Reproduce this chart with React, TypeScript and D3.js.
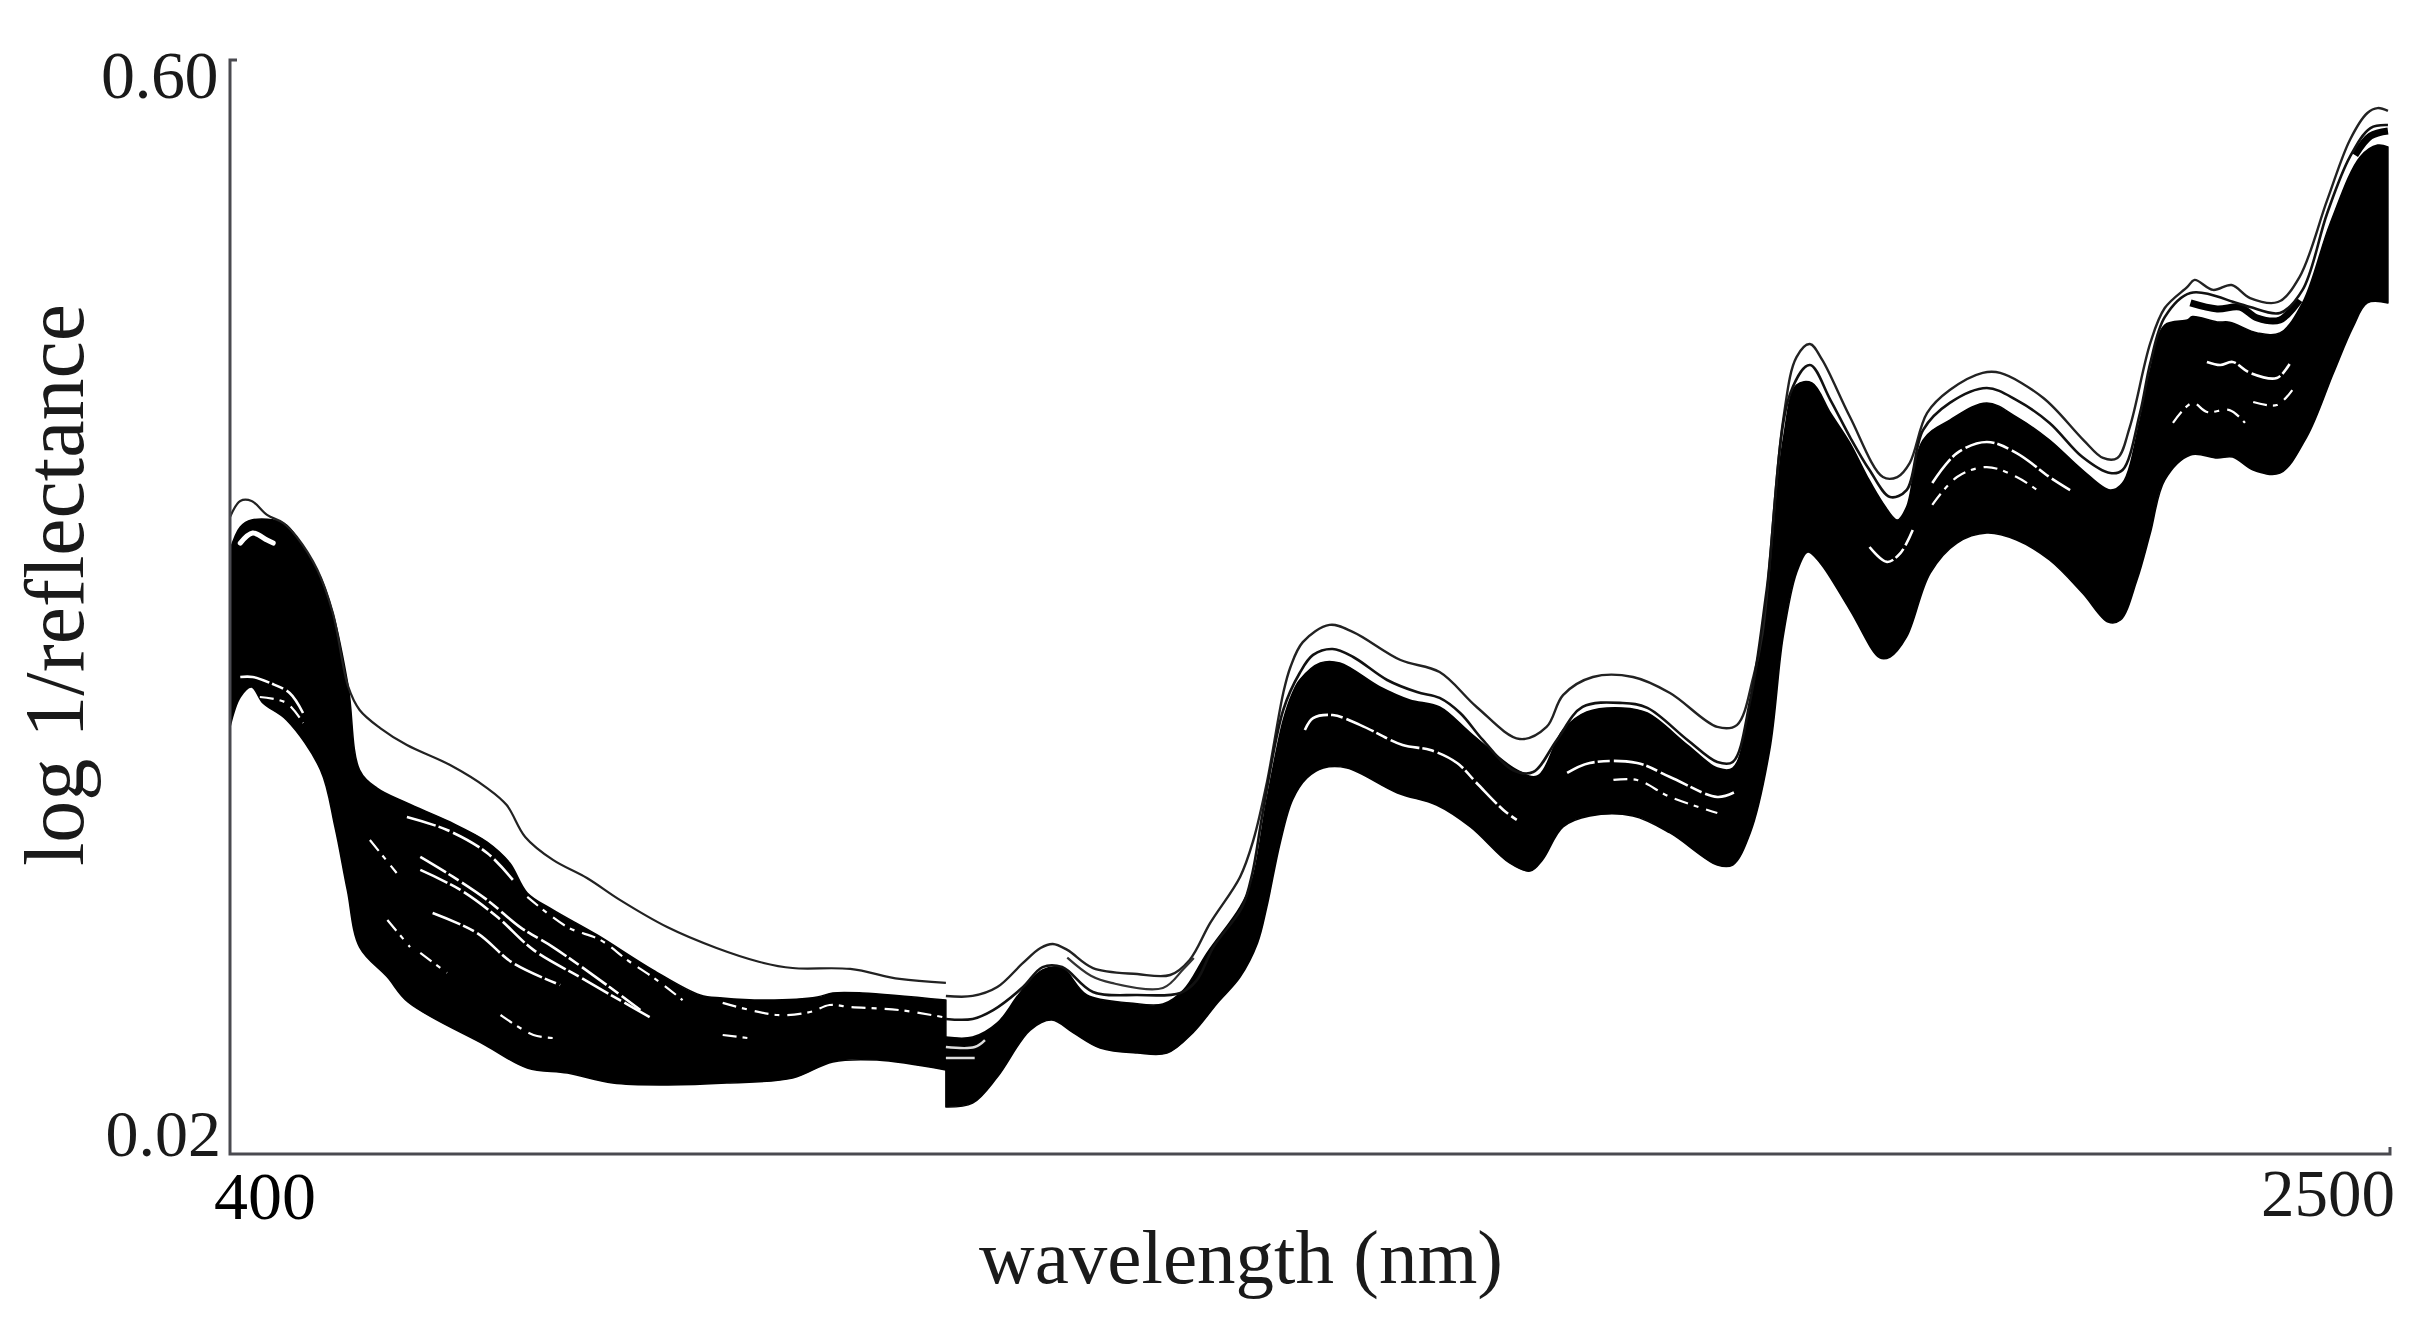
import React from "react";
import * as d3 from "d3";

type P = [number, number];

// wavelength (nm), log 1/R. Visible / first detector segment ends at 1096 nm.
const outlierVis: P[] = [[400,.3577],[410,.3662],[421,.3662],[436,.3588],[452,.3545],[465,.3471],[485,.3296],[500,.3068],[515,.2676],[526,.2554],[546,.2458],[572,.2368],[614,.2262],[650,.2140],[669,.2050],[687,.1881],[714,.1759],[747,.1663],[779,.1547],[825,.1403],[873,.1292],[915,.1218],[947,.1186],[1003,.1181],[1051,.1128],[1096,.1107]];
const bandTopVis: P[] = [[400,.3402],[410,.3524],[421,.3561],[452,.3545],[468,.3445],[488,.3259],[500,.3068],[515,.2676],[526,.2236],[543,.2140],[572,.2061],[614,.1960],[650,.1854],[672,.1743],[689,.1584],[714,.1494],[757,.1361],[811,.1176],[857,.1043],[879,.1027],[922,.1016],[971,.1032],[986,.1054],[1015,.1054],[1096,.1016]];
const bandBottomVis: P[] = [[400,.2464],[410,.2623],[421,.2676],[432,.2591],[455,.2501],[488,.2236],[502,.1934],[514,.1600],[526,.1297],[553,.1138],[573,.1006],[648,.0778],[689,.0656],[728,.0629],[772,.0576],[825,.0566],[883,.0576],[947,.0603],[986,.0688],[1029,.0698],[1096,.0645]];

const gapVisA: P[] = [[585,.1775],[617,.1669],[650,.1547],[682,.1403],[714,.1297],[769,.1085],[799,.0963]];
const gapVisB: P[] = [[597,.1478],[640,.1372],[675,.1213],[721,.1096]];
const gapVisC: P[] = [[663,.0937],[695,.0831],[714,.0815]];
const gapVisD: P[] = [[879,.0831],[903,.0815]];
const gapVisE: P[] = [[879,.1001],[932,.0937],[964,.0953],[983,.0990],[1003,.0979],[1051,.0963],[1093,.0926]];
const gapVisF: P[] = [[585,.1706],[624,.1600],[660,.1456],[695,.1282],[740,.1138],[779,.1016],[808,.0926]];
const gapVisG: P[] = [[689,.1563],[728,.1403],[760,.1335],[786,.1229],[815,.1122],[840,.1016]];
const gapVisH: P[] = [[553,.1441],[575,.1297]];
const gapVisI: P[] = [[585,.1266],[611,.1160]];
const gapVisJ: P[] = [[572,.1987],[611,.1918],[650,.1796],[675,.1653]];
const gapVisK: P[] = [[536,.1865],[562,.1690]];
const gapPeakA: P[] = [[410,.3439],[422,.3492],[436,.3455],[442,.3439]];
const gapPeakB: P[] = [[410,.2729],[422,.2729],[439,.2697],[458,.2644],[471,.2538]];
const gapPeakC: P[] = [[429,.2623],[455,.2591],[471,.2485]];

const outlierNir: P[] = [[1096,.1038],[1122,.1038],[1146,.1085],[1171,.1213],[1188,.1292],[1200,.1313],[1214,.1282],[1239,.1186],[1282,.1154],[1314,.1149],[1333,.1229],[1353,.1425],[1382,.1669],[1395,.1865],[1408,.2167],[1424,.2644],[1431,.2782],[1443,.2914],[1469,.3005],[1492,.2967],[1538,.2819],[1576,.2755],[1612,.2570],[1654,.2400],[1680,.2464],[1696,.2633],[1725,.2729],[1764,.2729],[1800,.2644],[1846,.2464],[1865,.2474],[1881,.2729],[1890,.2962],[1910,.4091],[1923,.4425],[1936,.4494],[1948,.4410],[1975,.4107],[2007,.3789],[2021,.3789],[2033,.3863],[2050,.4129],[2072,.4250],[2104,.4341],[2121,.4341],[2163,.4208],[2202,.3985],[2221,.3890],[2235,.3890],[2247,.4054],[2267,.4500],[2281,.4685],[2303,.4797],[2310,.4834],[2328,.4781],[2346,.4807],[2364,.4738],[2391,.4717],[2412,.4849],[2439,.5258],[2461,.5576],[2478,.5719],[2488,.5745],[2498,.5730]];
const secondNir: P[] = [[1096,.0916],[1122,.0916],[1142,.0963],[1171,.1085],[1190,.1191],[1209,.1191],[1239,.1059],[1282,.1043],[1324,.1054],[1340,.1122],[1356,.1297],[1384,.1509],[1394,.1690],[1404,.2008],[1424,.2554],[1440,.2750],[1453,.2846],[1472,.2877],[1492,.2835],[1525,.2713],[1554,.2649],[1576,.2618],[1596,.2538],[1618,.2395],[1647,.2236],[1667,.2225],[1690,.2395],[1715,.2570],[1754,.2591],[1778,.2565],[1817,.2395],[1846,.2278],[1861,.2278],[1878,.2607],[1894,.3190],[1917,.4234],[1936,.4383],[1956,.4197],[1975,.4001],[1994,.3826],[2014,.3683],[2030,.3720],[2046,.4038],[2072,.4182],[2108,.4261],[2137,.4197],[2169,.4076],[2201,.3895],[2228,.3810],[2240,.3826],[2257,.4129],[2267,.4394],[2281,.4637],[2306,.4765],[2351,.4712],[2364,.4690],[2393,.4659],[2415,.4781],[2439,.5189],[2461,.5486],[2481,.5639],[2498,.5655]];
const thirdNir: P[] = [[1214,.1241],[1237,.1145],[1257,.1107],[1307,.1080],[1327,.1181],[1337,.1239]];
const stripNir: P[] = [[2306,.4712],[2332,.4680],[2354,.4690],[2371,.4632],[2393,.4622],[2412,.4728]];
const stripEnd: P[] = [[2466,.5496],[2481,.5597],[2498,.5624]];
const bandTopNir: P[] = [[1096,.0820],[1122,.0820],[1146,.0895],[1168,.1054],[1190,.1176],[1209,.1186],[1233,.1043],[1275,.1001],[1307,.0995],[1327,.1069],[1350,.1266],[1382,.1509],[1394,.1653],[1408,.2077],[1424,.2501],[1433,.2644],[1440,.2713],[1460,.2803],[1479,.2803],[1518,.2676],[1547,.2607],[1576,.2570],[1606,.2432],[1651,.2236],[1671,.2204],[1696,.2448],[1719,.2543],[1754,.2565],[1778,.2538],[1817,.2368],[1846,.2246],[1861,.2246],[1878,.2580],[1894,.3137],[1910,.3985],[1923,.4277],[1938,.4288],[1956,.4129],[1975,.3969],[1992,.3789],[2007,.3651],[2021,.3561],[2030,.3630],[2046,.3985],[2072,.4091],[2108,.4182],[2137,.4107],[2169,.3985],[2201,.3826],[2228,.3720],[2240,.3757],[2257,.4091],[2267,.4356],[2281,.4595],[2303,.4622],[2308,.4640],[2332,.4611],[2344,.4610],[2371,.4553],[2393,.4553],[2415,.4712],[2442,.5136],[2471,.5486],[2488,.5549],[2498,.5539]];
const bandBottomNir: P[] = [[1096,.0449],[1122,.0470],[1146,.0608],[1178,.0857],[1199,.0910],[1220,.0842],[1246,.0762],[1282,.0735],[1311,.0735],[1336,.0842],[1360,.1001],[1382,.1138],[1399,.1319],[1408,.1509],[1421,.1849],[1433,.2077],[1447,.2193],[1463,.2246],[1486,.2246],[1535,.2114],[1573,.2050],[1606,.1934],[1644,.1743],[1664,.1700],[1676,.1759],[1696,.1934],[1722,.1992],[1764,.1992],[1800,.1902],[1846,.1732],[1861,.1732],[1878,.1902],[1897,.2342],[1910,.2941],[1923,.3280],[1934,.3392],[1946,.3333],[1975,.3084],[2004,.2830],[2014,.2835],[2030,.2941],[2053,.3280],[2079,.3439],[2108,.3492],[2137,.3455],[2169,.3349],[2201,.3174],[2226,.3020],[2238,.3031],[2254,.3243],[2267,.3492],[2281,.3773],[2306,.3906],[2332,.3890],[2347,.3895],[2367,.3826],[2393,.3810],[2419,.4001],[2445,.4341],[2464,.4584],[2478,.4712],[2498,.4712]];

const gapNirA: P[] = [[1096,.0767],[1124,.0767],[1134,.0804]];
const gapNirB: P[] = [[1096,.0709],[1124,.0709]];
const gapNirC: P[] = [[1445,.2448],[1453,.2511],[1472,.2527],[1499,.2474],[1540,.2368],[1567,.2342],[1593,.2273],[1612,.2167],[1638,.2024],[1651,.1971]];
const gapNirD: P[] = [[1700,.2220],[1722,.2273],[1768,.2273],[1800,.2199],[1846,.2093],[1863,.2119]];
const gapNirE: P[] = [[1745,.2183],[1768,.2183],[1800,.2093],[1846,.2008]];
const gapNirF: P[] = [[2055,.3757],[2079,.3916],[2108,.3975],[2137,.3916],[2169,.3789],[2189,.3720]];
const gapNirG: P[] = [[2055,.3641],[2079,.3789],[2108,.3842],[2137,.3789],[2157,.3720]];
const gapNirH: P[] = [[1994,.3418],[2011,.3339],[2024,.3386],[2036,.3508]];
const gapNirI: P[] = [[2322,.4399],[2335,.4383],[2347,.4399],[2364,.4341],[2390,.4314],[2403,.4394]];
const gapNirJ: P[] = [[2367,.4187],[2390,.4171],[2405,.4250]];
const gapNirK: P[] = [[2289,.4076],[2308,.4182],[2322,.4134],[2344,.4144],[2359,.4076]];

const solidGaps: P[][] = [gapVisA, gapVisF, gapVisB, gapVisJ, gapPeakB, gapNirC, gapNirD, gapNirF, gapNirH, gapNirI];
const brokenGaps: P[][] = [gapVisC, gapVisD, gapVisE, gapVisG, gapVisH, gapVisI, gapVisK, gapPeakC, gapNirE, gapNirG, gapNirJ, gapNirK];
const horizontalGaps: P[][] = [gapNirA, gapNirB];

const xDomain = [400, 2500];
const yDomain = [0.02, 0.6];
const xAxisLabels = ["400", "2500"];
const yAxisLabels = ["0.02", "0.60"];
const xTitle = "wavelength (nm)";
const yTitle = "log 1/reflectance";

const x = d3.scaleLinear().domain(xDomain).range([230, 2390]);
const y = d3.scaleLinear().domain(yDomain).range([1154, 60]);
const line = d3
  .line<P>()
  .x((d) => x(d[0]))
  .y((d) => y(d[1]))
  .curve(d3.curveCatmullRom.alpha(0.5));

const band = (top: P[], bottom: P[]) =>
  `${line(top)}${(line([...bottom].reverse()) as string).replace(/^M/, "L")}Z`;

const font = "'Liberation Serif', 'Times New Roman', serif";
const ink = "#1a1a1a";

export default function App() {
  return (
    <svg
      width={2431}
      height={1321}
      viewBox="0 0 2431 1321"
      style={{ position: "absolute", left: 0, top: 0, display: "block", background: "#fff" }}
      fontFamily={font}
    >
      <path d={band(bandTopVis, bandBottomVis)} fill="#000" stroke="#000" strokeWidth={1.5} strokeLinejoin="round" />
      <path d={band(bandTopNir, bandBottomNir)} fill="#000" stroke="#000" strokeWidth={1.5} strokeLinejoin="round" />

      {solidGaps.map((g, i) => (
        <path key={`s${i}`} d={line(g) as string} fill="none" stroke="#fff" strokeWidth={2.6} strokeDasharray="30 3 12 4" />
      ))}
      {brokenGaps.map((g, i) => (
        <path key={`b${i}`} d={line(g) as string} fill="none" stroke="#fff" strokeWidth={2.2} strokeDasharray="14 6 5 8" />
      ))}
      {horizontalGaps.map((g, i) => (
        <path key={`h${i}`} d={line(g) as string} fill="none" stroke="#ddd" strokeWidth={2.5} />
      ))}
      <path d={line(gapPeakA) as string} fill="none" stroke="#fff" strokeWidth={5} strokeLinecap="round" />

      <path d={line(stripNir) as string} fill="none" stroke="#000" strokeWidth={7} />
      <path d={line(stripEnd) as string} fill="none" stroke="#000" strokeWidth={7} />
      <path d={line(outlierVis) as string} fill="none" stroke="#222" strokeWidth={2.2} />
      <path d={line(outlierNir) as string} fill="none" stroke="#222" strokeWidth={2.4} />
      <path d={line(secondNir) as string} fill="none" stroke="#111" strokeWidth={2.6} />
      <path d={line(thirdNir) as string} fill="none" stroke="#333" strokeWidth={2.2} />

      <path
        d={`M${x(xDomain[0]) + 7},${y(yDomain[1])}H${x(xDomain[0])}V${y(yDomain[0])}H${x(xDomain[1])}V${y(yDomain[0]) - 7}`}
        fill="none"
        stroke="#4a4a50"
        strokeWidth={3}
      />

      <text x={218} y={98} textAnchor="end" fontSize={68} fill={ink} letterSpacing={-0.5}>{yAxisLabels[1]}</text>
      <text x={221} y={1156} textAnchor="end" fontSize={66} fill={ink}>{yAxisLabels[0]}</text>
      <text x={265} y={1219} textAnchor="middle" fontSize={68} fill="#000">{xAxisLabels[0]}</text>
      <text x={2328} y={1216} textAnchor="middle" fontSize={67} fill={ink}>{xAxisLabels[1]}</text>
      <text x={1241} y={1283} textAnchor="middle" fontSize={77} fill={ink}>{xTitle}</text>
      <text transform="translate(83,585) rotate(-90)" textAnchor="middle" fontSize={84} fill={ink}>{yTitle}</text>
    </svg>
  );
}
